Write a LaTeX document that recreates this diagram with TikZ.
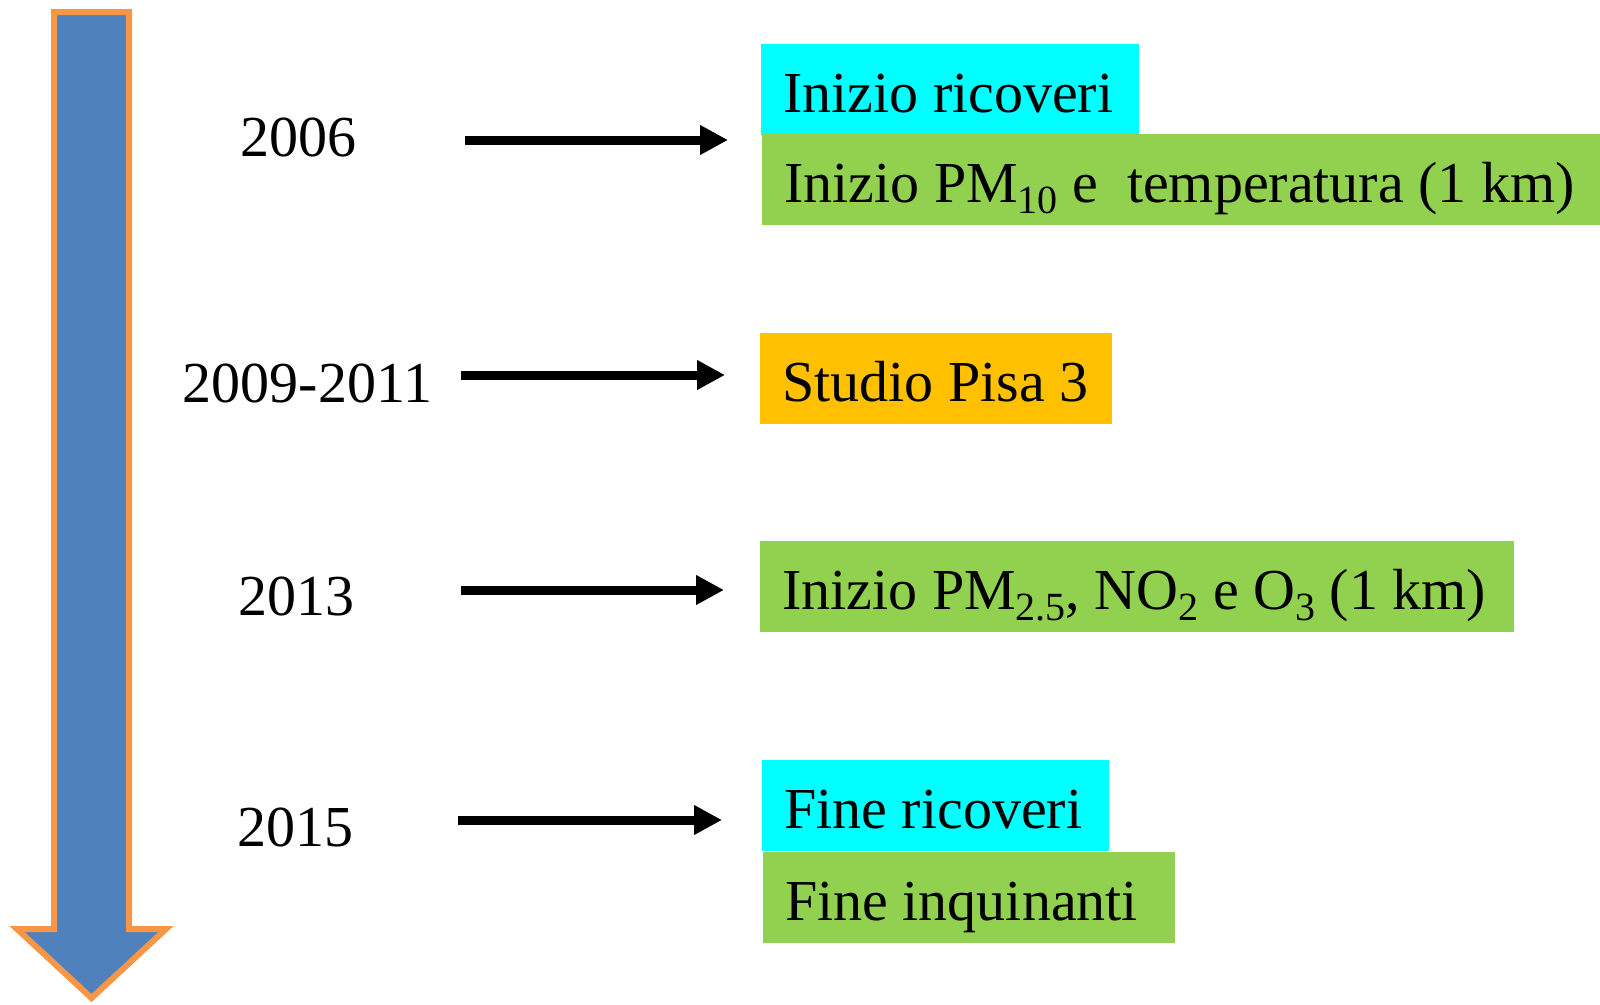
\documentclass[tikz,border=0pt]{standalone}
\usepackage{fontspec}
\setmainfont{Liberation Serif}
\usetikzlibrary{arrows.meta}
\definecolor{tlblue}{HTML}{4F81BD}
\definecolor{tlorange}{HTML}{F79646}
\definecolor{bxcyan}{HTML}{00FFFF}
\definecolor{bxgreen}{HTML}{92D050}
\definecolor{bxorange}{HTML}{FFC000}
\newcommand\bigtxt{\fontsize{58}{70}\selectfont}
\newcommand\sbs[1]{\raisebox{-11pt}{\fontsize{40}{40}\selectfont #1}}
\newcommand\bxt[2]{\makebox[#1][l]{#2}}
\tikzset{
  yearlbl/.style={anchor=base, inner sep=0pt, font=\bigtxt},
  evbox/.style={anchor=north west, inner xsep=22pt, inner ysep=0pt,
    text height=68pt, text depth=23pt, font=\bigtxt},
  tlarrow/.style={line width=9pt, -{Triangle[length=28pt,width=28pt]}},
  bigarrow/.style={fill=tlblue, draw=tlorange, line width=6pt, line join=miter}
}
\begin{document}
\begin{tikzpicture}[x=1pt,y=-1pt]
\useasboundingbox (0,0) rectangle (1600,1004);
% timeline arrow
\draw[bigarrow] (54,12) -- (129,12) -- (129,929) -- (166,929) -- (91.5,998)
  -- (17,929) -- (54,929) -- cycle;
% years
\node[yearlbl] (y1) at (298,156) {2006};
\node[yearlbl] (y2) at (307.5,402) {2009-2011};
\node[yearlbl] (y3) at (296.5,615) {2013};
\node[yearlbl] (y4) at (295,846) {2015};
% boxes
\node[evbox, fill=bxcyan] (b1) at (761,44) {\bxt{334pt}{Inizio ricoveri}};
\node[evbox, fill=bxgreen] (b2) at (762,134) {\bxt{795pt}{Inizio PM\sbs{10} e\ \ temperatura (1 km)}};
\node[evbox, fill=bxorange] (b3) at (760,333) {\bxt{308pt}{Studio Pisa 3}};
\node[evbox, fill=bxgreen] (b4) at (760,541) {\bxt{710pt}{Inizio PM\sbs{2.5}, NO\sbs{2} e O\sbs{3} (1 km)}};
\node[evbox, fill=bxcyan] (b5) at (762,760) {\bxt{303pt}{Fine ricoveri}};
\node[evbox, fill=bxgreen] (b6) at (763,852) {\bxt{368pt}{Fine inquinanti}};
% arrow endpoints
\coordinate (s1) at (465,140); \coordinate (e1) at (728,140);
\coordinate (s2) at (461,375); \coordinate (e2) at (725,375);
\coordinate (s3) at (461,590); \coordinate (e3) at (724,590);
\coordinate (s4) at (458,820); \coordinate (e4) at (722,820);
\draw[tlarrow] (s1) -- (e1);
\draw[tlarrow] (s2) -- (e2);
\draw[tlarrow] (s3) -- (e3);
\draw[tlarrow] (s4) -- (e4);
\end{tikzpicture}
\end{document}
